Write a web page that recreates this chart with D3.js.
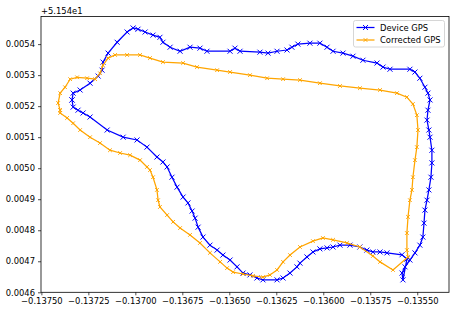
<!DOCTYPE html>
<html>
<head>
<meta charset="utf-8">
<script src="https://cdn.jsdelivr.net/npm/d3@7"></script>
<style>
  body { margin: 0; background: #fff; }
  text { font-family: "DejaVu Sans", sans-serif; }
</style>
</head>
<body>
<svg id="chart" width="468" height="314"></svg>
<script>
// longitude / latitude (latitude minus 51.54, as the axis offset shows)
const deviceLon = [-0.137337, -0.137331, -0.137294, -0.137241, -0.137198, -0.137177, -0.137172, -0.137145, -0.137097, -0.137044,
  -0.137012, -0.136986, -0.136948, -0.136906, -0.136869, -0.136853, -0.136815, -0.136762, -0.136709, -0.136656,
  -0.136619, -0.136496, -0.136470, -0.136443, -0.136337, -0.136294, -0.136246, -0.136193, -0.136167, -0.136135,
  -0.136071, -0.136018, -0.135980, -0.135948, -0.135895, -0.135842, -0.135789, -0.135714, -0.135682, -0.135645,
  -0.135539, -0.135512, -0.135486, -0.135459, -0.135443, -0.135432, -0.135443, -0.135448, -0.135438, -0.135432,
  -0.135422, -0.135422, -0.135427, -0.135438, -0.135448, -0.135459, -0.135464, -0.135470, -0.135486, -0.135512,
  -0.135539, -0.135565, -0.135581, -0.135576, -0.135555, -0.135581, -0.135661, -0.135698, -0.135736, -0.135768, -0.135805, -0.135858,
  -0.135911, -0.135948, -0.135980, -0.136018, -0.136055, -0.136087, -0.136124, -0.136140, -0.136177, -0.136214,
  -0.136246, -0.136321, -0.136353, -0.136390, -0.136427, -0.136459, -0.136496, -0.136534, -0.136565, -0.136603,
  -0.136640, -0.136666, -0.136682, -0.136698, -0.136720, -0.136746, -0.136778, -0.136805, -0.136831, -0.136853,
  -0.136885, -0.136938, -0.136991, -0.137065, -0.137150, -0.137241, -0.137278, -0.137305, -0.137331, -0.137337];
const deviceLat = [0.005220, 0.005242, 0.005252, 0.005274, 0.005297, 0.005316, 0.005342, 0.005371, 0.005406, 0.005439,
  0.005452, 0.005448, 0.005439, 0.005429, 0.005422, 0.005406, 0.005390, 0.005377, 0.005390, 0.005387,
  0.005377, 0.005377, 0.005387, 0.005377, 0.005374, 0.005371, 0.005377, 0.005381, 0.005390, 0.005400,
  0.005403, 0.005403, 0.005390, 0.005377, 0.005371, 0.005361, 0.005348, 0.005339, 0.005326, 0.005319,
  0.005319, 0.005310, 0.005290, 0.005261, 0.005242, 0.005220, 0.005187, 0.005155, 0.005123, 0.005100,
  0.005058, 0.005017, 0.004971, 0.004930, 0.004897, 0.004865, 0.004823, 0.004778, 0.004752, 0.004727,
  0.004704, 0.004682, 0.004662, 0.004640, 0.004707, 0.004721, 0.004727, 0.004730, 0.004730, 0.004736, 0.004746, 0.004752,
  0.004752, 0.004746, 0.004743, 0.004740, 0.004730, 0.004714, 0.004694, 0.004682, 0.004662, 0.004646,
  0.004640, 0.004640, 0.004646, 0.004656, 0.004662, 0.004682, 0.004704, 0.004720, 0.004736, 0.004752,
  0.004778, 0.004810, 0.004839, 0.004862, 0.004888, 0.004907, 0.004939, 0.004971, 0.005004, 0.005020,
  0.005036, 0.005068, 0.005091, 0.005100, 0.005123, 0.005165, 0.005178, 0.005187, 0.005197, 0.005220];

const correctedLon = [-0.137400, -0.137411, -0.137400, -0.137374, -0.137347, -0.137310, -0.137257, -0.137214, -0.137188, -0.137172,
  -0.137145, -0.137108, -0.137044, -0.136975, -0.136922, -0.136853, -0.136746,
  -0.136672, -0.136565, -0.136496, -0.136390, -0.136299, -0.136214, -0.136124, -0.136018, -0.135911, -0.135805,
  -0.135698, -0.135608, -0.135555, -0.135523, -0.135502, -0.135496, -0.135502, -0.135512, -0.135523, -0.135528,
  -0.135539, -0.135549, -0.135555, -0.135555, -0.135549, -0.135629, -0.135698, -0.135736, -0.135805, -0.135874,
  -0.135948, -0.136002, -0.136055, -0.136124, -0.136177, -0.136214, -0.136246, -0.136284, -0.136321, -0.136374,
  -0.136427, -0.136480, -0.136512, -0.136549, -0.136603, -0.136656, -0.136709, -0.136762, -0.136799, -0.136831,
  -0.136869, -0.136879, -0.136885, -0.136906, -0.136922, -0.136938, -0.136975, -0.137028, -0.137081, -0.137135,
  -0.137188, -0.137241, -0.137294, -0.137331, -0.137363, -0.137400, -0.137400];
const correctedLat = [0.005187, 0.005210, 0.005242, 0.005261, 0.005287, 0.005293, 0.005290, 0.005287, 0.005306, 0.005332,
  0.005355, 0.005365, 0.005365, 0.005365, 0.005355, 0.005342, 0.005339,
  0.005326, 0.005316, 0.005310, 0.005300, 0.005290, 0.005287, 0.005284, 0.005274, 0.005265, 0.005258,
  0.005252, 0.005242, 0.005229, 0.005207, 0.005171, 0.005123, 0.005068, 0.005026, 0.004971, 0.004930,
  0.004897, 0.004843, 0.004791, 0.004736, 0.004714, 0.004672, 0.004698, 0.004717, 0.004746, 0.004759,
  0.004769, 0.004775, 0.004765, 0.004746, 0.004720, 0.004698, 0.004672, 0.004656, 0.004649, 0.004653,
  0.004659, 0.004665, 0.004678, 0.004698, 0.004727, 0.004759, 0.004785, 0.004807, 0.004827, 0.004849,
  0.004875, 0.004897, 0.004930, 0.004971, 0.004994, 0.005004, 0.005026, 0.005042, 0.005049, 0.005058,
  0.005081, 0.005100, 0.005123, 0.005145, 0.005162, 0.005178, 0.005187];

const xTicks = [-0.13750, -0.13725, -0.13700, -0.13675, -0.13650, -0.13625, -0.13600, -0.13575, -0.13550];
const yTicks = [0.0046, 0.0047, 0.0048, 0.0049, 0.0050, 0.0051, 0.0052, 0.0053, 0.0054];
const seriesNames = ["Device GPS", "Corrected GPS"];
const offsetLabel = "+5.154e1";

const svg = d3.select("#chart");
const margin = { top: 16.5, right: 19, bottom: 21.7, left: 41 };
const width = +svg.attr("width");
const height = +svg.attr("height");
const fontSize = 8.4;

const x = d3.scaleLinear()
  .domain([-0.137502, -0.135331])
  .range([margin.left, width - margin.right]);
const y = d3.scaleLinear()
  .domain([0.0046, 0.005489])
  .range([height - margin.bottom, margin.top]);

const minus = s => s.replace("-", "\u2212");

svg.append("g")
  .attr("transform", `translate(0,${height - margin.bottom})`)
  .call(d3.axisBottom(x).tickValues(xTicks).tickSize(3).tickPadding(3)
    .tickFormat(d => minus(d3.format(".5f")(d))))
  .call(g => g.select(".domain").remove())
  .selectAll("text").attr("font-size", fontSize).attr("fill", "#000");

svg.append("g")
  .attr("transform", `translate(${margin.left},0)`)
  .call(d3.axisLeft(y).tickValues(yTicks).tickSize(3).tickPadding(3)
    .tickFormat(d => d3.format(".4f")(d)))
  .call(g => g.select(".domain").remove())
  .selectAll("text").attr("font-size", fontSize).attr("fill", "#000");

svg.selectAll(".tick line").attr("stroke", "#000").attr("stroke-width", 0.7);

svg.append("text")
  .attr("x", margin.left)
  .attr("y", 14)
  .attr("font-size", fontSize)
  .text(offsetLabel);

const plot = svg.append("g");

const series = [
  { lon: deviceLon, lat: deviceLat, color: "#0000ff", lw: 1.25, ms: 2.5 },
  { lon: correctedLon, lat: correctedLat, color: "#ffa500", lw: 1.25, ms: 1.8 }
];

const line = d3.line().x(d => x(d[0])).y(d => y(d[1]));
const xMarker = s => `M${-s},${-s}L${s},${s}M${-s},${s}L${s},${-s}`;

series.forEach(s => {
  const pts = s.lon.map((v, i) => [v, s.lat[i]]);
  plot.append("path")
    .datum(pts)
    .attr("d", line)
    .attr("fill", "none")
    .attr("stroke", s.color)
    .attr("stroke-width", s.lw);
  plot.selectAll(null)
    .data(pts)
    .enter()
    .append("path")
    .attr("transform", d => `translate(${x(d[0])},${y(d[1])})`)
    .attr("d", xMarker(s.ms))
    .attr("stroke", s.color)
    .attr("stroke-width", 1);
});

// frame
svg.append("rect")
  .attr("x", margin.left)
  .attr("y", margin.top)
  .attr("width", width - margin.left - margin.right)
  .attr("height", height - margin.top - margin.bottom)
  .attr("fill", "none")
  .attr("stroke", "#000")
  .attr("stroke-width", 0.8);

// legend
const legend = svg.append("g").attr("transform", "translate(353.5,20.5)");
legend.append("rect")
  .attr("width", 91).attr("height", 26.5).attr("rx", 2)
  .attr("fill", "#fff").attr("fill-opacity", 0.8)
  .attr("stroke", "#ccc").attr("stroke-width", 0.8);
seriesNames.forEach((name, i) => {
  const s = series[i];
  const g = legend.append("g").attr("transform", `translate(0,${7 + i * 12.5})`);
  g.append("line").attr("x1", 3).attr("x2", 21).attr("stroke", s.color).attr("stroke-width", s.lw);
  g.append("path").attr("transform", "translate(12,0)").attr("d", xMarker(s.ms))
    .attr("stroke", s.color).attr("stroke-width", 1);
  g.append("text").attr("x", 26.5).attr("y", 3).attr("font-size", fontSize).text(name);
});
</script>
</body>
</html>
